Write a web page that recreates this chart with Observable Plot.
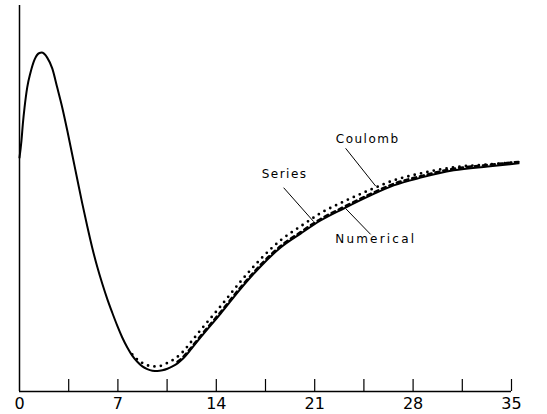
<!DOCTYPE html>
<html>
<head>
<meta charset="utf-8">
<script src="https://cdn.jsdelivr.net/npm/d3@7"></script>
<script src="https://cdn.jsdelivr.net/npm/@observablehq/plot@0.6"></script>
<style>
  html, body { margin: 0; padding: 0; background: #fff; }
  #chart svg { display: block; }
</style>
</head>
<body>
<div id="chart"></div>
<script>
// x positions (arbitrary units along the abscissa) and curve values (arbitrary ordinate units)
const xNumerical = [0,0.14,0.24,0.36,0.55,0.78,1.07,1.42,1.57,1.97,2.33,2.68,3.04,3.40,3.75,4.11,4.46,4.82,5.17,5.53,5.89,6.24,6.60,6.96,7.31,7.67,8.02,8.38,8.74,9.09,9.45,9.81,10.17,10.52,10.88,11.24,11.60,12.24,12.88,14.31,15.73,17.15,18.58,20.0,21.42,23.06,24.98,26.62,28.54,30.89,33.31,35.5];
const numerical  = [60.6,65.0,69.4,73.6,78.8,82.6,86.0,87.7,87.8,86.5,83.7,78.8,73.6,67.6,61.4,55.0,48.8,42.8,37.3,32.3,27.9,24.0,20.4,17.0,14.0,11.4,9.3,7.7,6.5,5.8,5.4,5.3,5.5,5.9,6.5,7.3,8.4,11.1,14.0,20.2,26.6,32.4,37.3,40.9,44.3,47.4,50.8,53.4,55.4,57.3,58.3,59.1];

const xCoulomb = [8.02,8.38,8.74,9.09,9.45,9.81,10.17,10.52,10.88,11.24,11.60,12.24,12.88,14.31,15.73,17.15,18.58,20.0,21.42,23.06,24.98,26.62,28.54,30.89,33.31,35.4];
const coulomb  = [9.6,8.3,7.4,6.8,6.5,6.5,6.8,7.4,8.1,9.0,10.2,13.0,15.9,22.1,28.5,34.3,39.2,42.8,46.2,49.2,52.3,54.7,56.5,58.1,58.8,59.4];

const xSeries = [11.24,11.60,12.24,12.88,14.31,15.73,17.15,18.58,20.0,21.42,23.06,24.98,26.62,28.54,30.89,33.31,35.5];
const series  = [7.7,8.8,11.5,14.4,20.6,27.0,32.8,37.7,41.3,44.7,47.8,51.2,53.8,55.8,57.7,58.7,59.5];

const xTickLabels = [0, 7, 14, 21, 28, 35];
const xMinorTicks = [3.5, 7, 10.5, 14, 17.5, 21, 24.5, 28, 31.5, 35];

// annotations
const labelText = ["Series", "Coulomb", "Numerical"];
const labelX = [18.86, 24.77, 25.34];
const labelY = [56.2, 65.5, 39.4];
const labelAnchor = ["middle", "middle", "start"];
const leaderX1 = [18.79, 23.20, 23.20];
const leaderY1 = [52.8, 63.0, 47.4];
const leaderX2 = [20.93, 25.34, 24.98];
const leaderY2 = [44.0, 53.2, 40.7];

const numData = xNumerical.map((x, i) => ({x, y: numerical[i]}));
const coulData = xCoulomb.map((x, i) => ({x, y: coulomb[i]}));
const serData = xSeries.map((x, i) => ({x, y: series[i]}));
const labels = labelText.map((t, i) => ({t, x: labelX[i], y: labelY[i], a: labelAnchor[i]}));
const leaders = labelText.map((t, i) => ({x1: leaderX1[i], y1: leaderY1[i], x2: leaderX2[i], y2: leaderY2[i]}));

const chart = Plot.plot({
  width: 547,
  height: 414,
  marginLeft: 19,
  marginRight: 36,
  marginTop: 5,
  marginBottom: 23,
  x: {domain: [0, 35], axis: null},
  y: {domain: [0, 100], axis: null},
  marks: [
    Plot.ruleX([0], {stroke: "#000", strokeWidth: 1.5}),
    Plot.ruleY([0], {stroke: "#000", strokeWidth: 1.5}),
    Plot.tickX(xMinorTicks, {x: d => d, insetTop: 374, stroke: "#000", strokeWidth: 1.2}),
    Plot.text(xTickLabels, {x: d => d, text: d => String(d), frameAnchor: "bottom", lineAnchor: "top", dy: 6, fontSize: 16, fill: "#000", fontFamily: "DejaVu Sans", className: "ticklab"}),
    Plot.line(numData, {x: "x", y: "y", curve: "monotone-x", stroke: "#000", strokeWidth: 2}),
    Plot.line(serData, {x: "x", y: "y", curve: "monotone-x", stroke: "#000", strokeWidth: 2.4, strokeDasharray: "4,4"}),
    Plot.line(coulData, {x: "x", y: "y", curve: "monotone-x", stroke: "#000", strokeWidth: 2.8, strokeDasharray: "0,6.5", strokeLinecap: "round"}),
    Plot.link(leaders, {x1: "x1", y1: "y1", x2: "x2", y2: "y2", stroke: "#000", strokeWidth: 1}),
    Plot.text(labels, {x: "x", y: "y", text: "t", textAnchor: d => d.a, fontSize: 12, fill: "#000", fontFamily: "DejaVu Sans", className: "annot"})
  ]
});
document.getElementById("chart").appendChild(chart);
chart.querySelectorAll('.annot text').forEach(t => t.setAttribute("letter-spacing", t.textContent === "Numerical" ? "2.2" : "1.5"));
// force layout of the tick labels after insertion
chart.querySelectorAll('.ticklab text').forEach(t => { t.getBBox(); });
</script>
</body>
</html>
